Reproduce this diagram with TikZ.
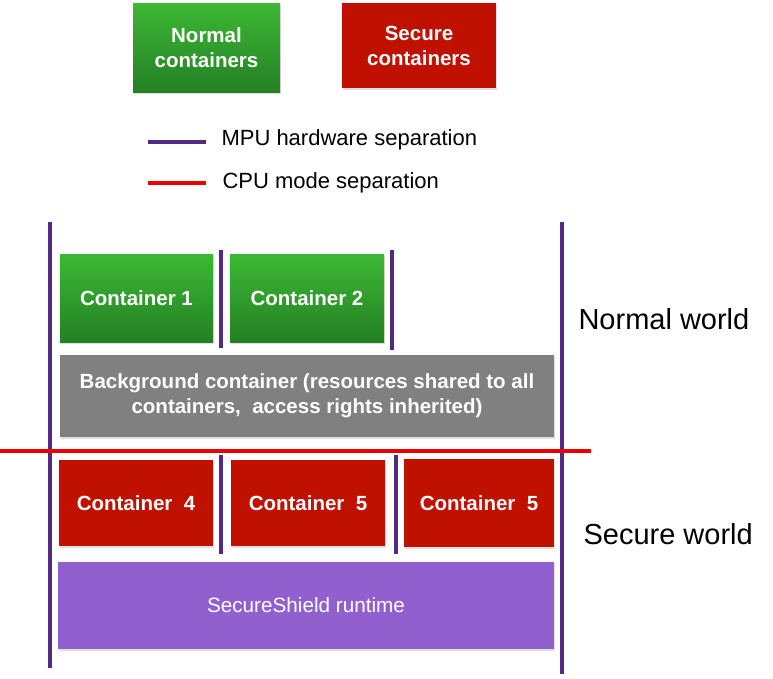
\documentclass[tikz,border=0pt]{standalone}
\usepackage{fontspec}
\setmainfont{Liberation Sans}
\usetikzlibrary{shadows}
\definecolor{ngreentop}{RGB}{60,184,52}
\definecolor{ngreenbot}{RGB}{36,128,36}
\definecolor{sred}{RGB}{192,16,0}
\definecolor{mpupurple}{RGB}{82,42,132}
\definecolor{cpured}{RGB}{235,0,0}
\definecolor{bggrey}{RGB}{128,128,128}
\definecolor{rtpurple}{RGB}{145,96,206}
\tikzstyle{box} = [rectangle, text=white, align=center, inner sep=0pt, font=\bfseries\fontsize{20.5}{25}\selectfont, drop shadow={opacity=0.25, shadow xshift=1pt, shadow yshift=-2pt}]
\tikzstyle{normal} = [box, top color=ngreentop, bottom color=ngreenbot]
\tikzstyle{secure} = [box, fill=sred]
\tikzstyle{mpu} = [line width=4pt, mpupurple]
\tikzstyle{cpu} = [line width=4pt, cpured]
\tikzstyle{world} = [anchor=base west, font=\fontsize{29}{34}\selectfont]
\tikzstyle{legend} = [anchor=base west, font=\fontsize{22}{26}\selectfont]

\begin{document}
\begin{tikzpicture}[x=1pt, y=-1pt]
  \useasboundingbox (0,0) rectangle (773,678);

  % legend
  \node[normal, minimum width=147pt, minimum height=89pt] (normkey) at (206.5,47.5) {Normal\\containers};
  \node[secure, minimum width=154pt, minimum height=85pt] (seckey) at (419,45.5) {Secure\\containers};
  \draw[mpu] (148,142) -- (206,142);
  \node[legend] (mpukey) at (218,145.5) {MPU hardware separation};
  \draw[cpu] (148,183) -- (206,183);
  \node[legend] (cpukey) at (219,188) {CPU mode separation};

  % normal world
  \node[normal, minimum width=153pt, minimum height=88pt] (cont1) at (136.5,298) {Container 1};
  \node[normal, minimum width=154pt, minimum height=88pt] (cont2) at (307,298) {Container 2};
  \node[box, fill=bggrey, minimum width=494pt, minimum height=82pt] (backgr) at (307,396)
    {Background container (resources shared to all\\containers,\ \ access rights inherited)};

  % secure world
  \node[secure, minimum width=154pt, minimum height=86pt] (cont4) at (136,503) {Container\ \ 4};
  \node[secure, minimum width=154pt, minimum height=86pt] (cont5) at (308,503) {Container\ \ 5};
  \node[secure, minimum width=150pt, minimum height=88pt] (cont6) at (479,503) {Container\ \ 5};
  \node[box, fill=rtpurple, minimum width=496pt, minimum height=87pt, font=\fontsize{20.7}{24}\selectfont, drop shadow={opacity=0}] (runtime) at (306,605.5) {SecureShield runtime};

  % separations
  \draw[mpu] (50,222) -- (50,668);
  \draw[mpu] (562,222) -- (562,674);
  \draw[mpu] (221,250) -- (221,348);
  \draw[mpu] (392,250) -- (392,350);
  \draw[mpu] (221,455) -- (221,554);
  \draw[mpu] (396,455) -- (396,554);
  \draw[cpu] (0,451) -- (591,451);

  \node[world] (normworld) at (575,329) {Normal world};
  \node[world] (secworld) at (580,544) {Secure world};
\end{tikzpicture}
\end{document}
